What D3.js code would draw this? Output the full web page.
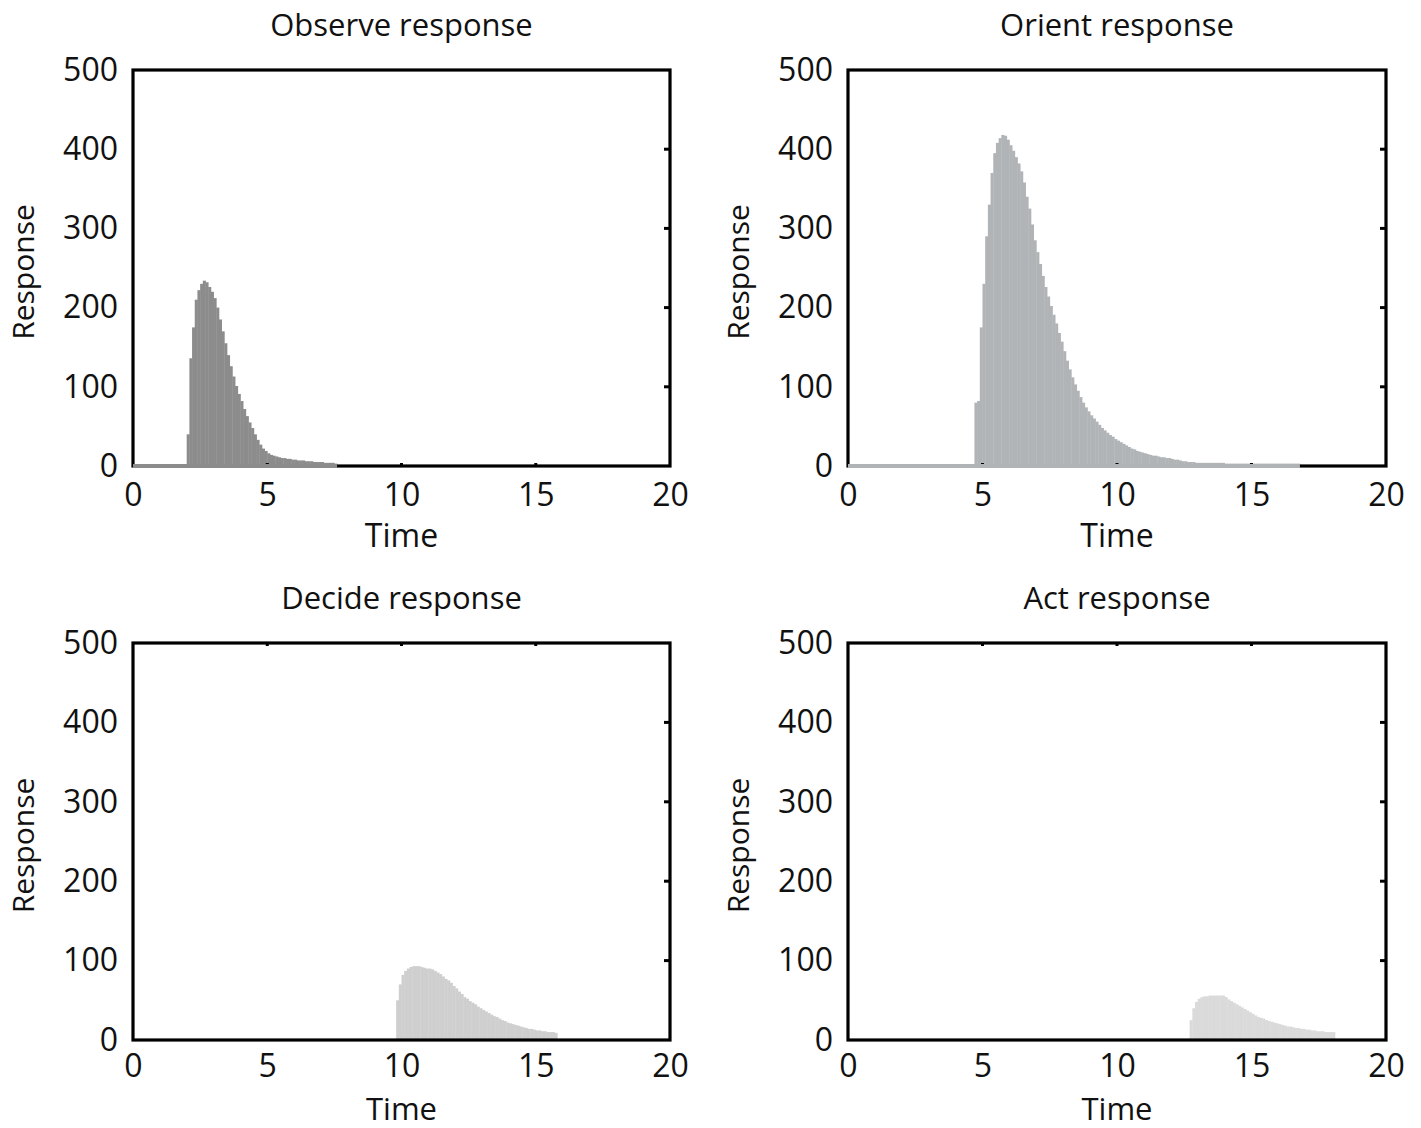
<!DOCTYPE html>
<html>
<head>
<meta charset="utf-8">
<script src="https://cdn.jsdelivr.net/npm/d3@7"></script>
<style>
  html, body { margin: 0; padding: 0; background: #fff; }
  svg { display: block; }
  text { font-family: "Open Sans", "Noto Sans", sans-serif; fill: #111; font-weight: 500; }
</style>
</head>
<body>
<svg id="chart" width="1421" height="1128"></svg>
<script>
// Histogram bins are 0.1 time units wide.
const binWidth = 0.1;

const xTicks = [0, 5, 10, 15, 20];
const yTicks = [0, 100, 200, 300, 400, 500];

// Observe stage: bins start at t = 2.0
const observeStart = 2.0;
const observeValues = [
  40, 136, 175, 210, 222, 230, 234, 232, 226, 220,
  212, 200, 185, 170, 155, 140, 126, 113, 101, 91,
  82, 72, 63, 55, 48, 40, 33, 27, 22, 19,
  16, 14, 13, 12, 11, 10, 10, 9, 9, 8,
  8, 7, 7, 7, 6, 6, 6, 5, 5, 5,
  5, 4, 4, 4, 4, 3
];

// Orient stage: bins start at t = 4.7
const orientStart = 4.7;
const orientValues = [
  80, 82, 175, 230, 290, 330, 370, 395, 408, 414,
  418, 417, 412, 405, 398, 390, 382, 372, 358, 340,
  325, 305, 285, 270, 255, 240, 226, 214, 202, 191,
  180, 168, 157, 145, 133, 122, 112, 103, 95, 87,
  80, 74, 69, 64, 60, 56, 52, 48, 45, 42,
  39, 37, 34, 32, 30, 28, 26, 24, 22, 21,
  19, 18, 17, 16, 15, 14, 13, 13, 12, 11,
  11, 10, 10, 9, 8, 8, 7, 6, 6, 5,
  5, 5, 4, 4, 4, 4, 4, 4, 4, 4,
  4, 4, 4, 3, 3, 3, 3, 3, 3, 3,
  3, 3, 3, 3, 3, 3, 3, 3, 3, 3,
  3, 3, 3, 3, 3, 3, 3, 3, 3, 3,
  3
];

// Decide stage: bins start at t = 9.8
const decideStart = 9.8;
const decideValues = [
  50, 70, 82, 87, 90, 92, 93, 93, 93, 92,
  91, 90, 90, 89, 87, 85, 83, 80, 77, 75,
  72, 68, 65, 61, 58, 54, 52, 49, 47, 45,
  42, 40, 38, 36, 34, 32, 30, 29, 27, 25,
  24, 22, 21, 20, 19, 18, 17, 16, 15, 14,
  14, 13, 12, 12, 11, 11, 10, 10, 10, 9
];

// Act stage: bins start at t = 12.7
const actStart = 12.7;
const actValues = [
  25, 40, 48, 52, 54, 55, 55, 56, 56, 56,
  56, 56, 56, 54, 51, 49, 47, 45, 43, 41,
  39, 37, 35, 33, 31, 29, 28, 27, 25, 24,
  23, 22, 21, 20, 19, 18, 17, 17, 16, 15,
  15, 14, 14, 13, 13, 12, 12, 11, 11, 11,
  10, 10, 10, 10
];

const panels = [
  { title: "Observe response", start: observeStart, values: observeValues,
    left: 133, right: 670, top: 70, bottom: 466, color: "#8c8c8c", overAxis: true,  tickEdge: "bottom" },
  { title: "Orient response",  start: orientStart,  values: orientValues,
    left: 848, right: 1386, top: 70, bottom: 466, color: "#b1b4b6", overAxis: true,  tickEdge: "bottom" },
  { title: "Decide response",  start: decideStart,  values: decideValues,
    left: 133, right: 670, top: 643, bottom: 1040, color: "#cfcfcf", overAxis: false, tickEdge: "top" },
  { title: "Act response",     start: actStart,     values: actValues,
    left: 848, right: 1386, top: 643, bottom: 1040, color: "#dadada", overAxis: false, tickEdge: "top" }
];

const FS = 32;
const svg = d3.select("#chart");

panels.forEach((p, pi) => {
  const x = d3.scaleLinear().domain([0, 20]).range([p.left, p.right]);
  const y = d3.scaleLinear().domain([0, 500]).range([p.bottom, p.top]);
  const g = svg.append("g");
  const bottomRow = pi >= 2;

  // histogram bars
  const bins = p.values.map((v, i) => ({ t0: p.start + i * binWidth, v }));
  g.append("g").selectAll("rect").data(bins).join("rect")
    .attr("x", d => x(d.t0))
    .attr("width", d => x(d.t0 + binWidth) - x(d.t0) + 0.4)
    .attr("y", d => y(d.v))
    .attr("height", d => y(0) - y(d.v))
    .attr("fill", p.color);

  // plot frame
  g.append("rect")
    .attr("x", p.left).attr("y", p.top)
    .attr("width", p.right - p.left).attr("height", p.bottom - p.top)
    .attr("fill", "none").attr("stroke", "#000").attr("stroke-width", 3.2);

  // inward ticks on the right edge
  g.append("g").selectAll("line").data(yTicks.slice(1, -1)).join("line")
    .attr("x1", p.right).attr("x2", p.right - 6)
    .attr("y1", d => y(d)).attr("y2", d => y(d))
    .attr("stroke", "#000").attr("stroke-width", 3);

  // small ticks along one horizontal edge
  const edgeY = p.tickEdge === "bottom" ? p.bottom : p.top;
  const dir = p.tickEdge === "bottom" ? -1 : 1;
  g.append("g").selectAll("line").data(xTicks.slice(1, -1)).join("line")
    .attr("x1", d => x(d)).attr("x2", d => x(d))
    .attr("y1", edgeY).attr("y2", edgeY + dir * 3)
    .attr("stroke", "#000").attr("stroke-width", 3);

  // zero-level band of the histogram lying over the time axis
  if (p.overAxis) {
    const tEnd = p.start + p.values.length * binWidth;
    g.append("rect")
      .attr("x", x(0)).attr("width", x(tEnd) - x(0))
      .attr("y", y(0) - 2).attr("height", 4)
      .attr("fill", p.color);
  }

  // y tick labels
  const yAxis = g.append("g")
    .attr("transform", `translate(${p.left},0)`)
    .call(d3.axisLeft(y).tickValues(yTicks).tickSize(0).tickPadding(15));
  yAxis.select(".domain").remove();
  yAxis.selectAll("text").attr("font-size", FS)
    .attr("font-family", "Open Sans, sans-serif").attr("font-weight", 500).attr("fill", "#111");

  // x tick labels
  const xAxis = g.append("g")
    .attr("transform", `translate(0,${p.bottom})`)
    .call(d3.axisBottom(x).tickValues(xTicks).tickSize(0).tickPadding(bottomRow ? 14 : 17));
  xAxis.select(".domain").remove();
  xAxis.selectAll("text").attr("font-size", FS)
    .attr("font-family", "Open Sans, sans-serif").attr("font-weight", 500).attr("fill", "#111");

  // axis titles
  const cx = (p.left + p.right) / 2;
  g.append("text")
    .attr("x", cx).attr("y", p.bottom + (bottomRow ? 80 : 81))
    .attr("text-anchor", "middle").attr("font-size", bottomRow ? FS - 1 : FS).text("Time");

  g.append("text")
    .attr("transform", `translate(${p.left - 99},${(p.top + p.bottom) / 2 + 4}) rotate(-90)`)
    .attr("text-anchor", "middle").attr("font-size", 30).text("Response");

  // panel title
  g.append("text")
    .attr("x", cx).attr("y", p.top - 34)
    .attr("text-anchor", "middle").attr("font-size", FS - 1).text(p.title);
});
</script>
</body>
</html>
